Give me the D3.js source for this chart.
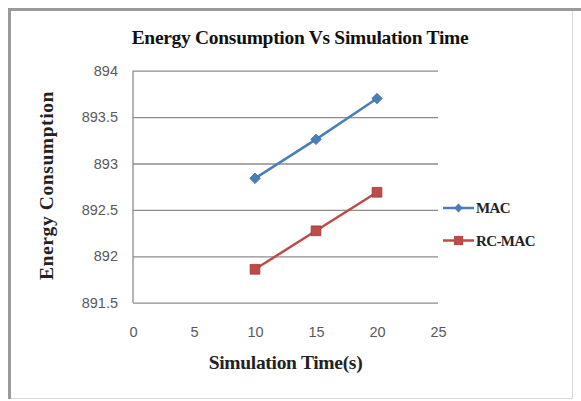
<!DOCTYPE html>
<html><head><meta charset="utf-8">
<script src="https://cdn.jsdelivr.net/npm/d3@7"></script>
<style>html,body{margin:0;padding:0;background:#fff;}svg{display:block;}</style>
</head><body>
<script>
const xValues = [10, 15, 20];
const macValues = [892.84, 893.26, 893.70];
const rcmacValues = [891.86, 892.275, 892.69];
const seriesNames = ["MAC", "RC-MAC"];
const xTicks = [0, 5, 10, 15, 20, 25];
const yTicks = [891.5, 892, 892.5, 893, 893.5, 894];
const titleText = "Energy Consumption Vs Simulation Time";
const xTitle = "Simulation Time(s)";
const yTitle = "Energy Consumption";

const W = 581, H = 401;
const svg = d3.select("body").append("svg").attr("width", W).attr("height", H);
svg.append("rect").attr("width", W).attr("height", H).attr("fill", "#fff");
// frame
svg.append("rect").attr("x", 9.5).attr("y", 9.5).attr("width", 563).attr("height", 389)
  .attr("fill", "none").attr("stroke", "#d8d8d8").attr("stroke-width", 1);
svg.append("path").attr("d", "M9.5,399V9.5H581").attr("fill", "none").attr("stroke", "#9a9a9a").attr("stroke-width", 3);

const x = d3.scaleLinear().domain([0, 25]).range([133, 438]);
const y = d3.scaleLinear().domain([891.5, 894]).range([302.7, 70.7]);

// gridlines via axis
const gy = svg.append("g").attr("transform", "translate(133,0)")
  .call(d3.axisRight(y).tickValues(yTicks).tickSize(305).tickFormat(""));
gy.select(".domain").remove();
gy.selectAll(".tick line").attr("stroke", "#8c8c8c").attr("stroke-width", 1.3);

// left axis line
svg.append("line").attr("x1", 133).attr("x2", 133).attr("y1", y(894)).attr("y2", y(891.5))
  .attr("stroke", "#8c8c8c").attr("stroke-width", 1.3);

// y tick labels
const yl = svg.append("g").attr("transform", "translate(133,0)")
  .call(d3.axisLeft(y).tickValues(yTicks).tickSize(0).tickPadding(15).tickFormat(d => String(d)));
yl.select(".domain").remove();
yl.selectAll("text").attr("font-family", "Liberation Sans, Arial, sans-serif").attr("font-size", 14.5).attr("fill", "#5a5a5a");

// x tick labels
const xl = svg.append("g").attr("transform", "translate(0," + y(891.5) + ")")
  .call(d3.axisBottom(x).tickValues(xTicks).tickSize(0).tickPadding(24).tickFormat(d => String(d)));
xl.select(".domain").remove();
xl.selectAll("text").attr("font-family", "Liberation Sans, Arial, sans-serif").attr("font-size", 14.5).attr("fill", "#5a5a5a");

const colors = ["#4a7ebb", "#be4b48"];
const data = [macValues, rcmacValues];
const line = d3.line().x((d, i) => x(xValues[i])).y(d => y(d));

data.forEach((vals, si) => {
  svg.append("path").datum(vals).attr("d", line).attr("fill", "none")
    .attr("stroke", colors[si]).attr("stroke-width", 2.5);
  const sym = si === 0 ? d3.symbol(d3.symbolDiamond2, 70) : d3.symbol(d3.symbolSquare, 95);
  svg.selectAll(null).data(vals).enter().append("path")
    .attr("d", sym)
    .attr("transform", (d, i) => "translate(" + x(xValues[i]) + "," + y(d) + ")")
    .attr("fill", colors[si]).attr("stroke", si === 0 ? "#3a6aa5" : "#a03a38").attr("stroke-width", 0.8);
});

// legend
const legY = [208, 240.5];
seriesNames.forEach((name, si) => {
  svg.append("line").attr("x1", 443).attr("x2", 474).attr("y1", legY[si]).attr("y2", legY[si])
    .attr("stroke", colors[si]).attr("stroke-width", 2.5);
  const sym = si === 0 ? d3.symbol(d3.symbolDiamond2, 50) : d3.symbol(d3.symbolSquare, 85);
  svg.append("path").attr("d", sym).attr("transform", "translate(458.5," + legY[si] + ")")
    .attr("fill", colors[si]);
  svg.append("text").attr("x", 476).attr("y", legY[si]).attr("dy", "0.35em")
    .attr("font-family", "Liberation Serif, Times New Roman, serif").attr("font-weight", "bold")
    .attr("font-size", 15).attr("fill", "#222").attr("letter-spacing", -0.6).text(name);
});

// title
svg.append("text").attr("x", 300).attr("y", 44).attr("text-anchor", "middle")
  .attr("font-family", "Liberation Serif, Times New Roman, serif").attr("font-weight", "bold")
  .attr("font-size", 19.5).attr("fill", "#111").attr("letter-spacing", -0.3).text(titleText);

// x title
svg.append("text").attr("x", 285.5).attr("y", 369).attr("text-anchor", "middle")
  .attr("font-family", "Liberation Serif, Times New Roman, serif").attr("font-weight", "bold")
  .attr("font-size", 19.5).attr("fill", "#222").attr("letter-spacing", -0.3).text(xTitle);

// y title
svg.append("text").attr("transform", "translate(53,185.5) rotate(-90)").attr("text-anchor", "middle")
  .attr("font-family", "Liberation Serif, Times New Roman, serif").attr("font-weight", "bold")
  .attr("font-size", 19.5).attr("fill", "#222").attr("letter-spacing", 0.6).text(yTitle);
</script>
</body></html>
